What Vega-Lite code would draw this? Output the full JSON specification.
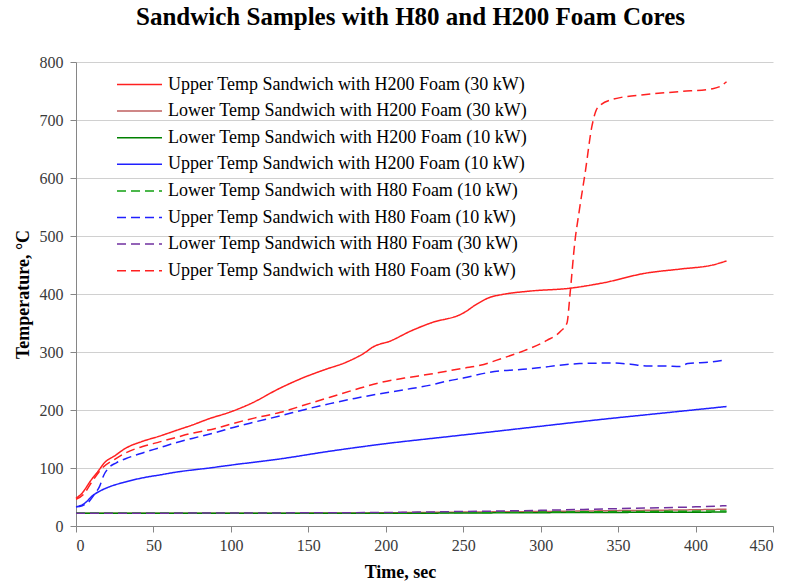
{
  "$schema": "https://vega.github.io/schema/vega-lite/v6.json",
  "autosize": "none",
  "width": 697,
  "height": 464,
  "padding": {"left": 76, "top": 62, "right": 19, "bottom": 56},
  "background": "white",
  "title": {
    "text": "Sandwich Samples with H80 and H200 Foam Cores",
    "font": "Liberation Serif",
    "fontSize": 25,
    "fontWeight": "bold",
    "color": "#000000",
    "anchor": "middle",
    "dx": -14,
    "offset": 24
  },
  "config": {
    "view": {"stroke": null},
    "axis": {
      "labelFont": "Liberation Serif",
      "labelFontSize": 16,
      "labelColor": "#3a3a3a",
      "titleFont": "Liberation Serif",
      "titleFontSize": 18,
      "titleFontWeight": "bold",
      "titleColor": "#000000",
      "domainColor": "#868686",
      "tickColor": "#868686",
      "tickSize": 6,
      "gridColor": "#d0d0d0",
      "gridWidth": 1
    },
    "legend": {
      "labelFont": "Liberation Serif",
      "labelFontSize": 18,
      "labelColor": "#000000",
      "labelLimit": 500
    }
  },
  "data": {
    "values": [
      {"series": "Upper Temp Sandwich with H200 Foam (30 kW)", "t": 0, "T": 48},
      {"series": "Upper Temp Sandwich with H200 Foam (30 kW)", "t": 3, "T": 54},
      {"series": "Upper Temp Sandwich with H200 Foam (30 kW)", "t": 10, "T": 80},
      {"series": "Upper Temp Sandwich with H200 Foam (30 kW)", "t": 15, "T": 97},
      {"series": "Upper Temp Sandwich with H200 Foam (30 kW)", "t": 18, "T": 108},
      {"series": "Upper Temp Sandwich with H200 Foam (30 kW)", "t": 25, "T": 121},
      {"series": "Upper Temp Sandwich with H200 Foam (30 kW)", "t": 32, "T": 134},
      {"series": "Upper Temp Sandwich with H200 Foam (30 kW)", "t": 43, "T": 146},
      {"series": "Upper Temp Sandwich with H200 Foam (30 kW)", "t": 54, "T": 155},
      {"series": "Upper Temp Sandwich with H200 Foam (30 kW)", "t": 65, "T": 165},
      {"series": "Upper Temp Sandwich with H200 Foam (30 kW)", "t": 75, "T": 174},
      {"series": "Upper Temp Sandwich with H200 Foam (30 kW)", "t": 86, "T": 185},
      {"series": "Upper Temp Sandwich with H200 Foam (30 kW)", "t": 99, "T": 196},
      {"series": "Upper Temp Sandwich with H200 Foam (30 kW)", "t": 112, "T": 210},
      {"series": "Upper Temp Sandwich with H200 Foam (30 kW)", "t": 132, "T": 238},
      {"series": "Upper Temp Sandwich with H200 Foam (30 kW)", "t": 147, "T": 256},
      {"series": "Upper Temp Sandwich with H200 Foam (30 kW)", "t": 160, "T": 269},
      {"series": "Upper Temp Sandwich with H200 Foam (30 kW)", "t": 175, "T": 283},
      {"series": "Upper Temp Sandwich with H200 Foam (30 kW)", "t": 186, "T": 298},
      {"series": "Upper Temp Sandwich with H200 Foam (30 kW)", "t": 192, "T": 309},
      {"series": "Upper Temp Sandwich with H200 Foam (30 kW)", "t": 203, "T": 319},
      {"series": "Upper Temp Sandwich with H200 Foam (30 kW)", "t": 216, "T": 336},
      {"series": "Upper Temp Sandwich with H200 Foam (30 kW)", "t": 229, "T": 350},
      {"series": "Upper Temp Sandwich with H200 Foam (30 kW)", "t": 250, "T": 367},
      {"series": "Upper Temp Sandwich with H200 Foam (30 kW)", "t": 259, "T": 383},
      {"series": "Upper Temp Sandwich with H200 Foam (30 kW)", "t": 267, "T": 394},
      {"series": "Upper Temp Sandwich with H200 Foam (30 kW)", "t": 275, "T": 399},
      {"series": "Upper Temp Sandwich with H200 Foam (30 kW)", "t": 293, "T": 405},
      {"series": "Upper Temp Sandwich with H200 Foam (30 kW)", "t": 319, "T": 410},
      {"series": "Upper Temp Sandwich with H200 Foam (30 kW)", "t": 340, "T": 419},
      {"series": "Upper Temp Sandwich with H200 Foam (30 kW)", "t": 368, "T": 436},
      {"series": "Upper Temp Sandwich with H200 Foam (30 kW)", "t": 390, "T": 443},
      {"series": "Upper Temp Sandwich with H200 Foam (30 kW)", "t": 411, "T": 450},
      {"series": "Upper Temp Sandwich with H200 Foam (30 kW)", "t": 420, "T": 457},

      {"series": "Lower Temp Sandwich with H200 Foam (30 kW)", "t": 0, "T": 22},
      {"series": "Lower Temp Sandwich with H200 Foam (30 kW)", "t": 100, "T": 22},
      {"series": "Lower Temp Sandwich with H200 Foam (30 kW)", "t": 180, "T": 22.5},
      {"series": "Lower Temp Sandwich with H200 Foam (30 kW)", "t": 250, "T": 24},
      {"series": "Lower Temp Sandwich with H200 Foam (30 kW)", "t": 300, "T": 25},
      {"series": "Lower Temp Sandwich with H200 Foam (30 kW)", "t": 350, "T": 26.5},
      {"series": "Lower Temp Sandwich with H200 Foam (30 kW)", "t": 400, "T": 28},
      {"series": "Lower Temp Sandwich with H200 Foam (30 kW)", "t": 420, "T": 29},

      {"series": "Lower Temp Sandwich with H200 Foam (10 kW)", "t": 0, "T": 22},
      {"series": "Lower Temp Sandwich with H200 Foam (10 kW)", "t": 200, "T": 22},
      {"series": "Lower Temp Sandwich with H200 Foam (10 kW)", "t": 300, "T": 23},
      {"series": "Lower Temp Sandwich with H200 Foam (10 kW)", "t": 420, "T": 24},

      {"series": "Upper Temp Sandwich with H200 Foam (10 kW)", "t": 0, "T": 33},
      {"series": "Upper Temp Sandwich with H200 Foam (10 kW)", "t": 5, "T": 38},
      {"series": "Upper Temp Sandwich with H200 Foam (10 kW)", "t": 11, "T": 53},
      {"series": "Upper Temp Sandwich with H200 Foam (10 kW)", "t": 16, "T": 61},
      {"series": "Upper Temp Sandwich with H200 Foam (10 kW)", "t": 21, "T": 67},
      {"series": "Upper Temp Sandwich with H200 Foam (10 kW)", "t": 32, "T": 76},
      {"series": "Upper Temp Sandwich with H200 Foam (10 kW)", "t": 43, "T": 83},
      {"series": "Upper Temp Sandwich with H200 Foam (10 kW)", "t": 54, "T": 88},
      {"series": "Upper Temp Sandwich with H200 Foam (10 kW)", "t": 65, "T": 93},
      {"series": "Upper Temp Sandwich with H200 Foam (10 kW)", "t": 86, "T": 100},
      {"series": "Upper Temp Sandwich with H200 Foam (10 kW)", "t": 103, "T": 106},
      {"series": "Upper Temp Sandwich with H200 Foam (10 kW)", "t": 130, "T": 115},
      {"series": "Upper Temp Sandwich with H200 Foam (10 kW)", "t": 164, "T": 129},
      {"series": "Upper Temp Sandwich with H200 Foam (10 kW)", "t": 200, "T": 142},
      {"series": "Upper Temp Sandwich with H200 Foam (10 kW)", "t": 240, "T": 154},
      {"series": "Upper Temp Sandwich with H200 Foam (10 kW)", "t": 267, "T": 162},
      {"series": "Upper Temp Sandwich with H200 Foam (10 kW)", "t": 300, "T": 172},
      {"series": "Upper Temp Sandwich with H200 Foam (10 kW)", "t": 340, "T": 184},
      {"series": "Upper Temp Sandwich with H200 Foam (10 kW)", "t": 380, "T": 195},
      {"series": "Upper Temp Sandwich with H200 Foam (10 kW)", "t": 420, "T": 206},

      {"series": "Lower Temp Sandwich with H80 Foam (10 kW)", "t": 0, "T": 22},
      {"series": "Lower Temp Sandwich with H80 Foam (10 kW)", "t": 200, "T": 22.5},
      {"series": "Lower Temp Sandwich with H80 Foam (10 kW)", "t": 300, "T": 24},
      {"series": "Lower Temp Sandwich with H80 Foam (10 kW)", "t": 420, "T": 26},

      {"series": "Upper Temp Sandwich with H80 Foam (10 kW)", "t": 0, "T": 33},
      {"series": "Upper Temp Sandwich with H80 Foam (10 kW)", "t": 4, "T": 35},
      {"series": "Upper Temp Sandwich with H80 Foam (10 kW)", "t": 8, "T": 41},
      {"series": "Upper Temp Sandwich with H80 Foam (10 kW)", "t": 12, "T": 55},
      {"series": "Upper Temp Sandwich with H80 Foam (10 kW)", "t": 15, "T": 67},
      {"series": "Upper Temp Sandwich with H80 Foam (10 kW)", "t": 18, "T": 88},
      {"series": "Upper Temp Sandwich with H80 Foam (10 kW)", "t": 21, "T": 100},
      {"series": "Upper Temp Sandwich with H80 Foam (10 kW)", "t": 26, "T": 109},
      {"series": "Upper Temp Sandwich with H80 Foam (10 kW)", "t": 32, "T": 116},
      {"series": "Upper Temp Sandwich with H80 Foam (10 kW)", "t": 43, "T": 126},
      {"series": "Upper Temp Sandwich with H80 Foam (10 kW)", "t": 54, "T": 135},
      {"series": "Upper Temp Sandwich with H80 Foam (10 kW)", "t": 65, "T": 144},
      {"series": "Upper Temp Sandwich with H80 Foam (10 kW)", "t": 75, "T": 151},
      {"series": "Upper Temp Sandwich with H80 Foam (10 kW)", "t": 90, "T": 161},
      {"series": "Upper Temp Sandwich with H80 Foam (10 kW)", "t": 99, "T": 168},
      {"series": "Upper Temp Sandwich with H80 Foam (10 kW)", "t": 115, "T": 179},
      {"series": "Upper Temp Sandwich with H80 Foam (10 kW)", "t": 132, "T": 190},
      {"series": "Upper Temp Sandwich with H80 Foam (10 kW)", "t": 148, "T": 201},
      {"series": "Upper Temp Sandwich with H80 Foam (10 kW)", "t": 164, "T": 211},
      {"series": "Upper Temp Sandwich with H80 Foam (10 kW)", "t": 180, "T": 220},
      {"series": "Upper Temp Sandwich with H80 Foam (10 kW)", "t": 196, "T": 228},
      {"series": "Upper Temp Sandwich with H80 Foam (10 kW)", "t": 212, "T": 235},
      {"series": "Upper Temp Sandwich with H80 Foam (10 kW)", "t": 229, "T": 243},
      {"series": "Upper Temp Sandwich with H80 Foam (10 kW)", "t": 240, "T": 250},
      {"series": "Upper Temp Sandwich with H80 Foam (10 kW)", "t": 250, "T": 255},
      {"series": "Upper Temp Sandwich with H80 Foam (10 kW)", "t": 267, "T": 265},
      {"series": "Upper Temp Sandwich with H80 Foam (10 kW)", "t": 293, "T": 271},
      {"series": "Upper Temp Sandwich with H80 Foam (10 kW)", "t": 325, "T": 280},
      {"series": "Upper Temp Sandwich with H80 Foam (10 kW)", "t": 347, "T": 281},
      {"series": "Upper Temp Sandwich with H80 Foam (10 kW)", "t": 358, "T": 279},
      {"series": "Upper Temp Sandwich with H80 Foam (10 kW)", "t": 368, "T": 276},
      {"series": "Upper Temp Sandwich with H80 Foam (10 kW)", "t": 380, "T": 276},
      {"series": "Upper Temp Sandwich with H80 Foam (10 kW)", "t": 390, "T": 275},
      {"series": "Upper Temp Sandwich with H80 Foam (10 kW)", "t": 395, "T": 280},
      {"series": "Upper Temp Sandwich with H80 Foam (10 kW)", "t": 411, "T": 283},
      {"series": "Upper Temp Sandwich with H80 Foam (10 kW)", "t": 420, "T": 287},

      {"series": "Lower Temp Sandwich with H80 Foam (30 kW)", "t": 0, "T": 22},
      {"series": "Lower Temp Sandwich with H80 Foam (30 kW)", "t": 180, "T": 23},
      {"series": "Lower Temp Sandwich with H80 Foam (30 kW)", "t": 250, "T": 25},
      {"series": "Lower Temp Sandwich with H80 Foam (30 kW)", "t": 300, "T": 27},
      {"series": "Lower Temp Sandwich with H80 Foam (30 kW)", "t": 350, "T": 30},
      {"series": "Lower Temp Sandwich with H80 Foam (30 kW)", "t": 400, "T": 33},
      {"series": "Lower Temp Sandwich with H80 Foam (30 kW)", "t": 420, "T": 35},

      {"series": "Upper Temp Sandwich with H80 Foam (30 kW)", "t": 0, "T": 46},
      {"series": "Upper Temp Sandwich with H80 Foam (30 kW)", "t": 5, "T": 55},
      {"series": "Upper Temp Sandwich with H80 Foam (30 kW)", "t": 10, "T": 75},
      {"series": "Upper Temp Sandwich with H80 Foam (30 kW)", "t": 17, "T": 100},
      {"series": "Upper Temp Sandwich with H80 Foam (30 kW)", "t": 25, "T": 115},
      {"series": "Upper Temp Sandwich with H80 Foam (30 kW)", "t": 32, "T": 126},
      {"series": "Upper Temp Sandwich with H80 Foam (30 kW)", "t": 43, "T": 137},
      {"series": "Upper Temp Sandwich with H80 Foam (30 kW)", "t": 54, "T": 145},
      {"series": "Upper Temp Sandwich with H80 Foam (30 kW)", "t": 65, "T": 153},
      {"series": "Upper Temp Sandwich with H80 Foam (30 kW)", "t": 75, "T": 160},
      {"series": "Upper Temp Sandwich with H80 Foam (30 kW)", "t": 90, "T": 168},
      {"series": "Upper Temp Sandwich with H80 Foam (30 kW)", "t": 99, "T": 175},
      {"series": "Upper Temp Sandwich with H80 Foam (30 kW)", "t": 115, "T": 186},
      {"series": "Upper Temp Sandwich with H80 Foam (30 kW)", "t": 132, "T": 196},
      {"series": "Upper Temp Sandwich with H80 Foam (30 kW)", "t": 148, "T": 209},
      {"series": "Upper Temp Sandwich with H80 Foam (30 kW)", "t": 164, "T": 222},
      {"series": "Upper Temp Sandwich with H80 Foam (30 kW)", "t": 180, "T": 235},
      {"series": "Upper Temp Sandwich with H80 Foam (30 kW)", "t": 196, "T": 247},
      {"series": "Upper Temp Sandwich with H80 Foam (30 kW)", "t": 212, "T": 255},
      {"series": "Upper Temp Sandwich with H80 Foam (30 kW)", "t": 229, "T": 262},
      {"series": "Upper Temp Sandwich with H80 Foam (30 kW)", "t": 250, "T": 272},
      {"series": "Upper Temp Sandwich with H80 Foam (30 kW)", "t": 261, "T": 277},
      {"series": "Upper Temp Sandwich with H80 Foam (30 kW)", "t": 275, "T": 289},
      {"series": "Upper Temp Sandwich with H80 Foam (30 kW)", "t": 289, "T": 302},
      {"series": "Upper Temp Sandwich with H80 Foam (30 kW)", "t": 304, "T": 320},
      {"series": "Upper Temp Sandwich with H80 Foam (30 kW)", "t": 313, "T": 336},
      {"series": "Upper Temp Sandwich with H80 Foam (30 kW)", "t": 317, "T": 350},
      {"series": "Upper Temp Sandwich with H80 Foam (30 kW)", "t": 319, "T": 401},
      {"series": "Upper Temp Sandwich with H80 Foam (30 kW)", "t": 322, "T": 488},
      {"series": "Upper Temp Sandwich with H80 Foam (30 kW)", "t": 325, "T": 545},
      {"series": "Upper Temp Sandwich with H80 Foam (30 kW)", "t": 329, "T": 614},
      {"series": "Upper Temp Sandwich with H80 Foam (30 kW)", "t": 333, "T": 688},
      {"series": "Upper Temp Sandwich with H80 Foam (30 kW)", "t": 337, "T": 722},
      {"series": "Upper Temp Sandwich with H80 Foam (30 kW)", "t": 347, "T": 736},
      {"series": "Upper Temp Sandwich with H80 Foam (30 kW)", "t": 368, "T": 744},
      {"series": "Upper Temp Sandwich with H80 Foam (30 kW)", "t": 390, "T": 749},
      {"series": "Upper Temp Sandwich with H80 Foam (30 kW)", "t": 411, "T": 754},
      {"series": "Upper Temp Sandwich with H80 Foam (30 kW)", "t": 416, "T": 758},
      {"series": "Upper Temp Sandwich with H80 Foam (30 kW)", "t": 420, "T": 766}
    ]
  },
  "mark": {"type": "line", "strokeWidth": 1.5, "interpolate": "monotone"},
  "encoding": {
    "x": {
      "field": "t",
      "type": "quantitative",
      "scale": {"domain": [0, 450], "nice": false},
      "axis": {"values": [0, 50, 100, 150, 200, 250, 300, 350, 400, 450], "grid": false, "title": "Time, sec", "titlePadding": 10, "labelPadding": 5, "titleX": 324}
    },
    "y": {
      "field": "T",
      "type": "quantitative",
      "scale": {"domain": [0, 800], "nice": false},
      "axis": {"values": [0, 100, 200, 300, 400, 500, 600, 700, 800], "grid": true, "title": "Temperature,  °C", "titlePadding": 7, "labelPadding": 7}
    },
    "color": {
      "field": "series",
      "type": "nominal",
      "scale": {
        "domain": [
          "Upper Temp Sandwich with H200 Foam (30 kW)",
          "Lower Temp Sandwich with H200 Foam (30 kW)",
          "Lower Temp Sandwich with H200 Foam (10 kW)",
          "Upper Temp Sandwich with H200 Foam (10 kW)",
          "Lower Temp Sandwich with H80 Foam (10 kW)",
          "Upper Temp Sandwich with H80 Foam (10 kW)",
          "Lower Temp Sandwich with H80 Foam (30 kW)",
          "Upper Temp Sandwich with H80 Foam (30 kW)"
        ],
        "range": ["#FF2020", "#C06060", "#008000", "#2020FF", "#10A010", "#2020FF", "#7030A0", "#FF2020"]
      },
      "legend": {
        "title": null,
        "orient": "none",
        "legendX": 52.5,
        "legendY": 11.5,
        "symbolType": "M-2.25,0H2.25",
        "symbolSize": 400,
        "symbolStrokeWidth": 1.5,
        "symbolFillColor": "transparent",
        "rowPadding": 6.6,
        "labelOffset": 17.5,
        "padding": 0
      }
    },
    "strokeDash": {
      "field": "series",
      "type": "nominal",
      "scale": {
        "domain": [
          "Upper Temp Sandwich with H200 Foam (30 kW)",
          "Lower Temp Sandwich with H200 Foam (30 kW)",
          "Lower Temp Sandwich with H200 Foam (10 kW)",
          "Upper Temp Sandwich with H200 Foam (10 kW)",
          "Lower Temp Sandwich with H80 Foam (10 kW)",
          "Upper Temp Sandwich with H80 Foam (10 kW)",
          "Lower Temp Sandwich with H80 Foam (30 kW)",
          "Upper Temp Sandwich with H80 Foam (30 kW)"
        ],
        "range": [[1, 0], [1, 0], [1, 0], [1, 0], [9, 5], [9, 5], [9, 5], [9, 5]]
      }
    },
    "order": {"field": "t", "type": "quantitative"}
  }
}
